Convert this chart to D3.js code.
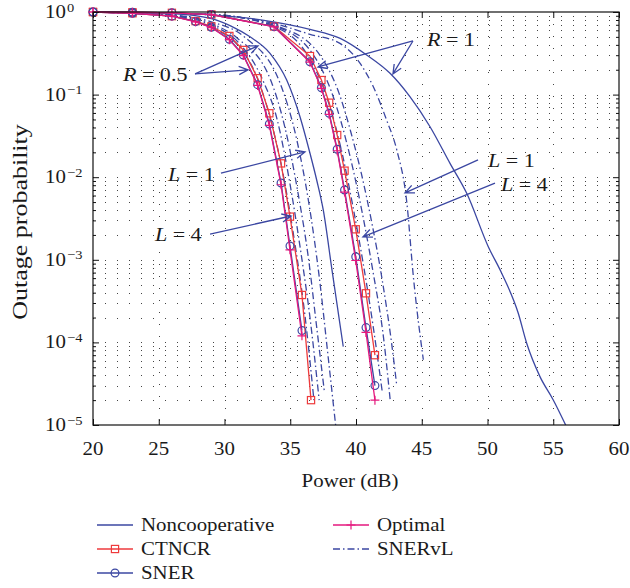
<!DOCTYPE html>
<html>
<head>
<meta charset="utf-8">
<script src="https://cdn.jsdelivr.net/npm/d3@7"></script>
<style>
  body { margin: 0; background: #fff; }
  svg { display: block; font-family: "Liberation Serif", "Times New Roman", serif; }
</style>
</head>
<body>
<svg id="chart" width="630" height="588"></svg>
<script>
// ---- data (power in dB, outage probability) ----
var xTicks = [20, 25, 30, 35, 40, 45, 50, 55, 60];
var yExponents = [0, -1, -2, -3, -4, -5];

// R = 0.5 group
var powerR05   = [20, 23, 26, 27.8, 29, 30.37, 31.43, 32.52, 33.41, 34.3, 34.98, 35.89, 36.58];
var ctncrR05   = [1, 0.966, 0.891, 0.776, 0.668, 0.513, 0.347, 0.158, 0.0594, 0.0147, 0.00333, 3.75e-4, 2.0e-5];
var snerR05    = [1, 0.966, 0.891, 0.764, 0.653, 0.468, 0.302, 0.132, 0.0441, 0.00851, 0.00147, 1.39e-4];
var optimalR05 = [1, 0.965, 0.889, 0.760, 0.648, 0.462, 0.297, 0.129, 0.0425, 0.0081, 0.00132, 1.2e-4];

// R = 1 group
var powerR1    = [20, 23, 26, 29, 33.77, 36.5, 37.37, 37.96, 38.57, 39.13, 39.98, 40.76, 41.44];
var ctncrR1    = [1, 0.993, 0.977, 0.933, 0.668, 0.293, 0.150, 0.0798, 0.0324, 0.0120, 0.00234, 3.93e-4, 7.0e-5];
var snerR1     = [1, 0.993, 0.977, 0.933, 0.664, 0.250, 0.121, 0.0594, 0.0218, 0.0070, 0.00109, 1.51e-4, 3.0e-5];
var optimalR1  = [1, 0.993, 0.977, 0.932, 0.662, 0.247, 0.119, 0.0575, 0.0209, 0.0066, 0.00098, 1.32e-4, 2.0e-5];

// Noncooperative
var nonPowerR05 = [20, 26, 29, 30.5, 31.94, 33.46, 34.73, 35.74, 36.5, 37.01, 37.51, 38.17, 39.03];
var nonR05      = [1, 0.955, 0.832, 0.676, 0.501, 0.316, 0.150, 0.054, 0.0195, 0.00925, 0.00401, 7.6e-4, 8.9e-5];
var nonPowerR1  = [20, 23, 26, 29, 33, 36.5, 38.8, 40.81, 42.59, 44.1, 45.63, 47.15, 48.42, 50.06, 51.08, 52.34, 52.98, 53.99, 55.0, 55.97];
var nonR1       = [1, 0.989, 0.966, 0.923, 0.794, 0.617, 0.479, 0.302, 0.181, 0.0944, 0.0408, 0.0147, 0.00638, 0.00144, 6.87e-4, 2.25e-4, 9.75e-5, 3.85e-5, 2.01e-5, 9.8e-6];

// SNERvL, L = 4 .. 1
var vl4PowerR05 = [20, 26, 29, 31, 32.5, 33.5, 34.5, 35.3, 36.1, 36.8];
var vl4R05      = [1, 0.891, 0.646, 0.398, 0.158, 0.0501, 0.01, 0.00178, 2.24e-4, 2.0e-5];
var vl3PowerR05 = [20, 26, 29, 31, 32.9, 34.0, 35.0, 35.8, 36.5, 37.2];
var vl3R05      = [1, 0.902, 0.692, 0.437, 0.151, 0.0501, 0.00794, 0.00126, 2.0e-4, 2.0e-5];
var vl2PowerR05 = [20, 26, 29, 31, 33.5, 34.6, 35.6, 36.4, 37.0, 37.6];
var vl2R05      = [1, 0.912, 0.724, 0.479, 0.151, 0.0398, 0.00631, 0.001, 1.58e-4, 2.5e-5];
var vl1PowerR05 = [20, 26, 29, 31.5, 34.2, 35.5, 36.4, 37.2, 37.9, 38.45];
var vl1R05      = [1, 0.923, 0.759, 0.501, 0.141, 0.0282, 0.00501, 6.3e-4, 6.3e-5, 1e-5];

var vl4PowerR1 = [20, 29, 33.8, 36.6, 37.6, 38.3, 39.0, 39.7, 40.5, 41.3, 42.0];
var vl4R1      = [1, 0.933, 0.661, 0.251, 0.112, 0.0501, 0.0178, 0.00501, 0.001, 1.58e-4, 2.5e-5];
var vl3PowerR1 = [20, 29, 34, 37, 38.1, 38.9, 39.7, 40.5, 41.3, 42.1, 42.6];
var vl3R1      = [1, 0.933, 0.661, 0.263, 0.112, 0.0447, 0.0141, 0.00355, 7.08e-4, 1.12e-4, 2.0e-5];
var vl2PowerR1 = [20, 29, 34.5, 37.5, 38.7, 39.6, 40.4, 41.2, 42.0, 42.7, 43.1];
var vl2R1      = [1, 0.927, 0.631, 0.263, 0.105, 0.0355, 0.0112, 0.00282, 5.62e-4, 1.0e-4, 3.0e-5];
var vl1PowerR1 = [20, 29, 33.8, 36.5, 38.78, 40.3, 41.3, 42.33, 43.1, 43.86, 44.36, 45.12];
var vl1R1      = [1, 0.923, 0.724, 0.537, 0.417, 0.24, 0.126, 0.049, 0.0214, 0.00501, 6.31e-4, 6.17e-5];

// annotations: italic symbol, rest of label, text anchor, arrow start, arrow tips (data units)
var notes = [
  {sym: "R", rest: " = 0.5", at: [22.28, 0.146], from: [27.76, 0.178], tips: [[32.55, 0.389], [31.79, 0.1995]]},
  {sym: "R", rest: " = 1",   at: [45.4, 0.388],  from: [44.33, 0.446], tips: [[42.81, 0.178], [37.11, 0.216]]},
  {sym: "L", rest: " = 1",   at: [25.7, 0.0089], from: [29.73, 0.0112], tips: [[36.12, 0.0202]]},
  {sym: "L", rest: " = 4",   at: [24.71, 0.0017], from: [28.9, 0.00205], tips: [[35.06, 0.00339]]},
  {sym: "L", rest: " = 1",   at: [50.04, 0.0133], from: [49.28, 0.0162], tips: [[43.73, 0.00646]]},
  {sym: "L", rest: " = 4",   at: [51.03, 0.0068], from: [50.57, 0.0085], tips: [[40.53, 0.0019]]}
];

// ---- setup ----
var W = 630, H = 588;
var margin = {left: 93, right: 11, top: 12, bottom: 163};
var BLUE = "#3b47a2", RED = "#ee3a3c", PINK = "#e5197e";
var STRETCH = 1.16;

var x = d3.scaleLinear().domain([20, 60]).range([margin.left, W - margin.right]);
var y = d3.scaleLog().domain([1e-5, 1]).range([H - margin.bottom, margin.top]);
var crisp = function(v){ return Math.round(v) + 0.5; };

var svg = d3.select("#chart");

svg.append("defs").append("clipPath").attr("id", "plotclip")
  .append("rect")
  .attr("x", x(20)).attr("y", y(1))
  .attr("width", x(60) - x(20)).attr("height", y(1e-5) - y(1));

// text with a horizontal stretch, the source font is wider than Times
function addText(g, px, py, anchor, size, k, rot){
  var t = "translate(" + px + "," + py + ")" + (rot ? " rotate(" + rot + ")" : "") + " scale(" + (k || STRETCH) + ",1)";
  return g.append("text")
    .attr("transform", t)
    .attr("text-anchor", anchor)
    .attr("font-size", size)
    .attr("fill", "#1a1a1a");
}

// ---- grid ----
var grid = svg.append("g")
  .attr("stroke", "#444").attr("stroke-width", 1).attr("stroke-dasharray", "1,11");

grid.selectAll(".gx").data(xTicks.slice(1, -1)).join("line")
  .attr("x1", function(d){ return crisp(x(d)); }).attr("x2", function(d){ return crisp(x(d)); })
  .attr("y1", y(1)).attr("y2", y(1e-5));

var yGridVals = y.ticks().filter(function(d){ return d > 1e-5 && d < 1; });
grid.selectAll(".gy").data(yGridVals).join("line")
  .attr("y1", function(d){ return crisp(y(d)); }).attr("y2", function(d){ return crisp(y(d)); })
  .attr("x1", x(20)).attr("x2", x(60));

// ---- curves ----
var plot = svg.append("g").attr("clip-path", "url(#plotclip)");
var marks = svg.append("g");

function pts(ps, vs){ return vs.map(function(v, i){ return [ps[i], v]; }); }

var smooth = d3.line().x(function(d){ return x(d[0]); }).y(function(d){ return y(d[1]); }).curve(d3.curveMonotoneX);
var straight = d3.line().x(function(d){ return x(d[0]); }).y(function(d){ return y(d[1]); });

function drawLine(layer, data, color, gen, dash){
  layer.append("path")
    .attr("d", gen(data))
    .attr("fill", "none")
    .attr("stroke", color)
    .attr("stroke-width", 1.3)
    .attr("stroke-dasharray", dash || null);
}

function drawMarkers(data, kind, color){
  var g = marks.append("g").attr("fill", "none").attr("stroke", color).attr("stroke-width", 1.2);
  var sel = g.selectAll("." + kind).data(data);
  if (kind === "square") {
    sel.join("rect")
      .attr("x", function(d){ return x(d[0]) - 3.6; }).attr("y", function(d){ return y(d[1]) - 3.6; })
      .attr("width", 7.2).attr("height", 7.2);
  } else if (kind === "circle") {
    sel.join("circle")
      .attr("cx", function(d){ return x(d[0]); }).attr("cy", function(d){ return y(d[1]); })
      .attr("r", 3.9);
  } else {
    sel.join("path")
      .attr("d", function(d){ var cx = x(d[0]), cy = y(d[1]);
        return "M" + (cx - 4.5) + "," + cy + "H" + (cx + 4.5) + "M" + cx + "," + (cy - 4.5) + "V" + (cy + 4.5); });
  }
}

var DASHDOT = "7,3,1.5,3";

// SNERvL
[[vl4PowerR05, vl4R05], [vl3PowerR05, vl3R05], [vl2PowerR05, vl2R05], [vl1PowerR05, vl1R05],
 [vl4PowerR1, vl4R1], [vl3PowerR1, vl3R1], [vl2PowerR1, vl2R1], [vl1PowerR1, vl1R1]]
  .forEach(function(s){ drawLine(plot, pts(s[0], s[1]), BLUE, smooth, DASHDOT); });

// Noncooperative
drawLine(plot, pts(nonPowerR05, nonR05), BLUE, smooth);
drawLine(plot, pts(nonPowerR1, nonR1), BLUE, smooth);

// CTNCR, SNER, Optimal (markers are not clipped, as in the source)
[[powerR05, ctncrR05], [powerR1, ctncrR1]].forEach(function(s){
  var d = pts(s[0], s[1]); drawLine(marks, d, RED, straight); drawMarkers(d, "square", RED);
});
[[powerR05, snerR05], [powerR1, snerR1]].forEach(function(s){
  var d = pts(s[0], s[1]); drawLine(marks, d, BLUE, straight); drawMarkers(d, "circle", BLUE);
});
[[powerR05, optimalR05], [powerR1, optimalR1]].forEach(function(s){
  var d = pts(s[0], s[1]); drawLine(marks, d, PINK, straight); drawMarkers(d, "plus", PINK);
});

// ---- annotations ----
var ann = svg.append("g");
notes.forEach(function(n){
  var fx = x(n.from[0]), fy = y(n.from[1]);
  n.tips.forEach(function(tp){
    var tx = x(tp[0]), ty = y(tp[1]);
    var a = Math.atan2(ty - fy, tx - fx), len = 10, spread = 0.42;
    ann.append("path")
      .attr("d", "M" + fx + "," + fy + "L" + tx + "," + ty +
        "M" + (tx - len * Math.cos(a - spread)) + "," + (ty - len * Math.sin(a - spread)) +
        "L" + tx + "," + ty +
        "L" + (tx - len * Math.cos(a + spread)) + "," + (ty - len * Math.sin(a + spread)))
      .attr("fill", "none").attr("stroke", BLUE).attr("stroke-width", 1.3);
  });
  var t = addText(ann, x(n.at[0]), y(n.at[1]), "start", 19);
  t.append("tspan").attr("font-style", "italic").text(n.sym);
  t.append("tspan").text(n.rest);
});

// ---- axes ----
var axes = svg.append("g");
var yMajor = yExponents.map(function(e){ return Math.pow(10, e); });
var yMinor = y.ticks().filter(function(d){ return yMajor.indexOf(d) < 0; });

function tickAxis(axis, tx, ty){
  var g = axes.append("g").attr("transform", "translate(" + tx + "," + ty + ")").call(axis);
  g.select(".domain").remove();
  g.selectAll("text").remove();
  g.selectAll("line").attr("stroke", "#111");
  return g;
}
tickAxis(d3.axisBottom(x).tickValues(xTicks).tickSizeInner(-6).tickSizeOuter(0), 0, y(1e-5));
tickAxis(d3.axisTop(x).tickValues(xTicks).tickSizeInner(-6).tickSizeOuter(0), 0, y(1));
tickAxis(d3.axisLeft(y).tickValues(yMajor).tickSizeInner(-6).tickSizeOuter(0), x(20), 0);
tickAxis(d3.axisLeft(y).tickValues(yMinor).tickSizeInner(-3).tickSizeOuter(0), x(20), 0);
tickAxis(d3.axisRight(y).tickValues(yMajor).tickSizeInner(-6).tickSizeOuter(0), x(60), 0);
tickAxis(d3.axisRight(y).tickValues(yMinor).tickSizeInner(-3).tickSizeOuter(0), x(60), 0);

axes.append("rect")
  .attr("x", crisp(x(20)) - 0.5).attr("y", crisp(y(1)) - 0.5)
  .attr("width", Math.round(x(60) - x(20))).attr("height", Math.round(y(1e-5) - y(1)))
  .attr("fill", "none").attr("stroke", "#111").attr("stroke-width", 1.2);

// tick labels
xTicks.forEach(function(v){
  addText(axes, x(v), y(1e-5) + 30, "middle", 18).text(v);
});
yExponents.forEach(function(e){
  var t = addText(axes, x(20) - 48, y(Math.pow(10, e)) + 6, "start", 18);
  t.append("tspan").text("10");
  t.append("tspan").attr("font-size", 12.5).attr("dy", -6.5).attr("dx", 1).text(e === 0 ? "0" : "\u2212" + Math.abs(e));
});

// axis titles
addText(axes, 350, y(1e-5) + 62, "middle", 18).text("Power (dB)");
addText(axes, 27, 222, "middle", 20, 1.3, -90).text("Outage probability");

// ---- legend ----
var legendItems = [
  {name: "Noncooperative", color: BLUE, marker: null,     dash: null,    col: 0, row: 0},
  {name: "CTNCR",          color: RED,  marker: "square", dash: null,    col: 0, row: 1},
  {name: "SNER",           color: BLUE, marker: "circle", dash: null,    col: 0, row: 2},
  {name: "Optimal",        color: PINK, marker: "plus",   dash: null,    col: 1, row: 0},
  {name: "SNERvL",         color: BLUE, marker: null,     dash: DASHDOT, col: 1, row: 1}
];
var legend = svg.append("g");
legendItems.forEach(function(it){
  var lx = 97 + it.col * 236, ly = 525 + it.row * 24;
  legend.append("line")
    .attr("x1", lx).attr("x2", lx + 36).attr("y1", ly).attr("y2", ly)
    .attr("stroke", it.color).attr("stroke-width", 1.3).attr("stroke-dasharray", it.dash);
  var mx = lx + 18;
  if (it.marker === "square") {
    legend.append("rect").attr("x", mx - 3.6).attr("y", ly - 3.6).attr("width", 7.2).attr("height", 7.2)
      .attr("fill", "none").attr("stroke", it.color).attr("stroke-width", 1.2);
  } else if (it.marker === "circle") {
    legend.append("circle").attr("cx", mx).attr("cy", ly).attr("r", 3.9)
      .attr("fill", "none").attr("stroke", it.color).attr("stroke-width", 1.2);
  } else if (it.marker === "plus") {
    legend.append("path").attr("d", "M" + (mx - 4.5) + "," + ly + "H" + (mx + 4.5) + "M" + mx + "," + (ly - 4.5) + "V" + (ly + 4.5))
      .attr("fill", "none").attr("stroke", it.color).attr("stroke-width", 1.2);
  }
  addText(legend, lx + 44, ly + 6, "start", 18).text(it.name);
});
</script>
</body>
</html>
